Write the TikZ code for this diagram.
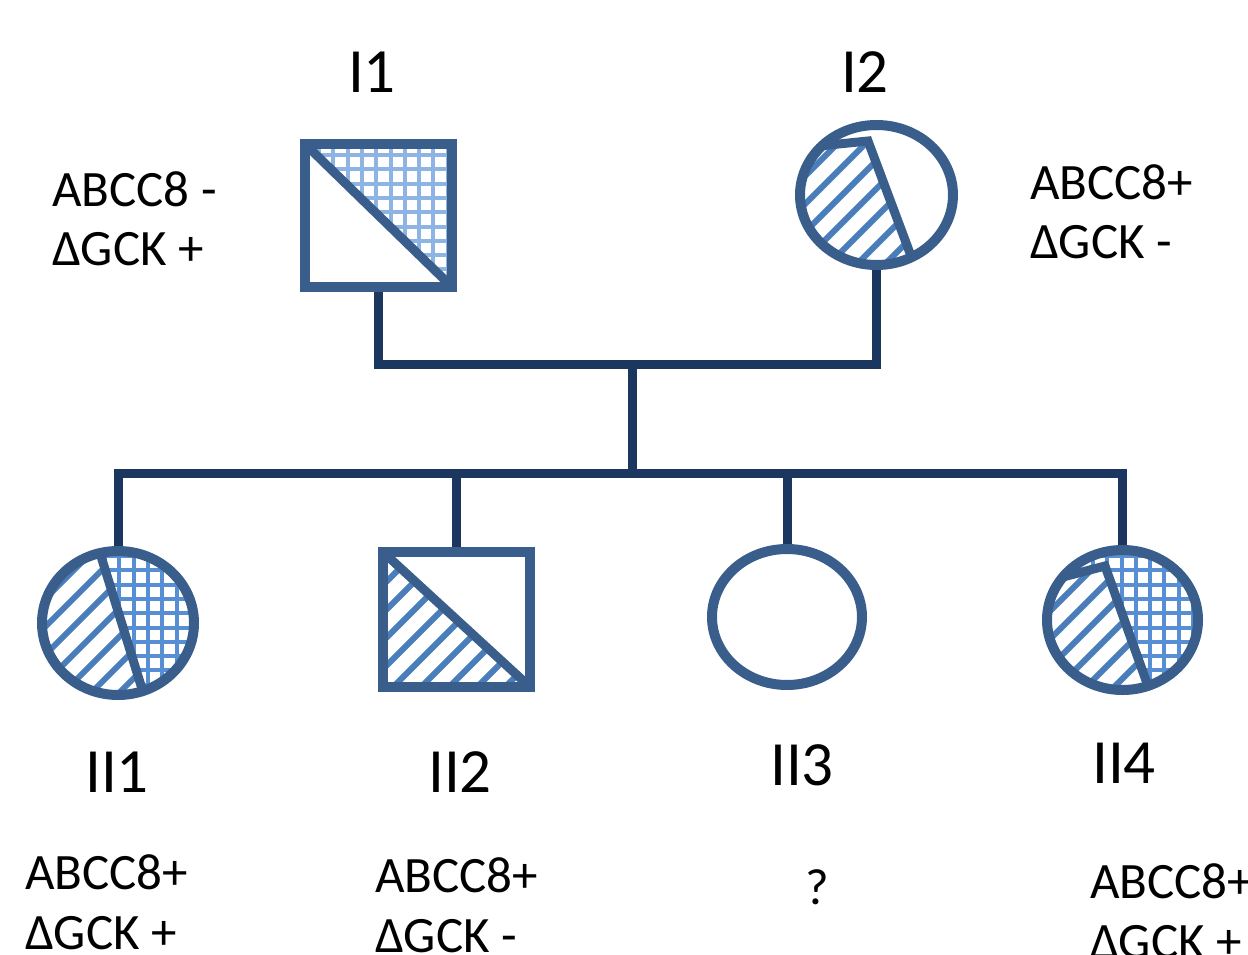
\documentclass[tikz,border=0pt]{standalone}
\usepackage{fontspec}
\setmainfont{Carlito}
\usetikzlibrary{shapes.geometric}
\definecolor{bord}{RGB}{58,94,140}
\definecolor{navy}{RGB}{28,55,95}
\definecolor{hatchc}{RGB}{74,126,187}
\definecolor{gridlight}{RGB}{141,180,226}
\definecolor{griddark}{RGB}{88,142,212}
\begin{document}
\begin{tikzpicture}[x=1pt,y=-1pt,
  border/.style={draw=bord, line width=10pt},
  sq/.style={border, rectangle, inner sep=0pt},
  circ/.style={border, ellipse, inner sep=0pt},
  divider/.style={draw=bord, line width=9pt, line join=miter},
  conn/.style={draw=navy, line width=9pt},
  hatchline/.style={draw=hatchc, line width=6pt},
  gridA/.style={draw=gridlight, line width=4pt},
  gridB/.style={draw=griddark, line width=4pt},
  lab/.style={font=\fontsize{63}{70}\selectfont, inner sep=0pt},
  geno/.style={font=\fontsize{51}{60}\selectfont, inner sep=0pt, anchor=base west}]
\useasboundingbox (0,0) rectangle (1248,955);

% ---------- I1 : grid in upper-right triangle
\begin{scope}
  \clip (305,144) -- (452,144) -- (452,287) -- cycle;
  \foreach \x in {319,333.3,...,460} \draw[gridA] (\x,138) -- (\x,292);
  \foreach \y in {155,169.3,...,295} \draw[gridA] (298,\y) -- (458,\y);
\end{scope}
\draw[divider] (305,144) -- (452,287);

% ---------- I2 : hatch in left part
\begin{scope}
  \clip (876.5,195) ellipse [x radius=76.5, y radius=70];
  \begin{scope}
    \clip (790,149) -- (868,141) -- (920,280) -- (790,280) -- cycle;
    \foreach \k in {640,668,...,930} \draw[hatchline] (\k,285) -- ++(170,-170);
  \end{scope}
  \draw[divider] (790,149) -- (868,141) -- (920,280);
\end{scope}

% ---------- II1 : hatch left, grid right
\begin{scope}
  \clip (118,623) ellipse [x radius=76, y radius=72];
  \begin{scope}
    \clip (30,540) -- (96,540) -- (147,705) -- (30,705) -- cycle;
    \foreach \k in {-150,-122,...,160} \draw[hatchline] (\k,710) -- ++(175,-175);
  \end{scope}
  \begin{scope}
    \clip (96,540) -- (210,540) -- (210,705) -- (147,705) -- cycle;
    \foreach \x in {105,119.3,...,210} \draw[gridB] (\x,540) -- (\x,705);
    \foreach \y in {556,570.3,...,705} \draw[gridB] (30,\y) -- (210,\y);
  \end{scope}
  \draw[divider] (96,540) -- (147,705);
\end{scope}

% ---------- II2 : hatch lower-left triangle
\begin{scope}
  \clip (383,552) -- (530,687) -- (383,687) -- cycle;
  \foreach \k in {220,248,...,540} \draw[hatchline] (\k,692) -- ++(160,-160);
\end{scope}
\draw[divider] (383,552) -- (530,687);

% ---------- II4 : hatch left, grid right
\begin{scope}
  \clip (1122.5,620) ellipse [x radius=75.5, y radius=70];
  \begin{scope}
    \clip (1040,583) -- (1105,566) -- (1153,700) -- (1040,700) -- cycle;
    \foreach \k in {900,928,...,1160} \draw[hatchline] (\k,705) -- ++(175,-175);
  \end{scope}
  \begin{scope}
    \clip (1040,540) -- (1210,540) -- (1210,700) -- (1153,700) -- (1105,566) -- (1040,583) -- cycle;
    \foreach \x in {1050,1064.3,...,1210} \draw[gridB] (\x,540) -- (\x,700);
    \foreach \y in {556,570.3,...,700} \draw[gridB] (1040,\y) -- (1210,\y);
  \end{scope}
  \draw[divider] (1040,583) -- (1105,566) -- (1153,700);
\end{scope}

% ---------- individuals (borders)
\node[sq, minimum width=147pt, minimum height=143pt] (I1) at (378.5,215.5) {};
\node[circ, minimum width=153pt, minimum height=140pt] (I2) at (876.5,195) {};
\node[circ, minimum width=152pt, minimum height=144pt] (II1) at (118,623) {};
\node[sq, minimum width=147pt, minimum height=135pt] (II2) at (456.5,619.5) {};
\node[circ, minimum width=150pt, minimum height=136pt] (II3) at (787,617) {};
\node[circ, minimum width=151pt, minimum height=140pt] (II4) at (1122.5,620) {};

% ---------- connectors
\coordinate (mate) at (632,364);
\coordinate (sib) at (632,473);
\draw[conn] (I1.south) |- (mate) -| (I2.south);
\draw[conn] (mate) -- (sib);
\draw[conn] (II1.north) |- (sib) -| (II4.north);
\draw[conn] (sib) -| (II2.north);
\draw[conn] (sib) -| (II3.north);

% ---------- labels
\node[lab] (lI1) at (372,72) {I1};
\node[lab] (lI2) at (865,72) {I2};
\node[lab] (lII1) at (117,772) {II1};
\node[lab] (lII2) at (460,772) {II2};
\node[lab] (lII3) at (802,765) {II3};
\node[lab] (lII4) at (1124,763) {II4};

% ---------- genotypes
\node[geno] (gI1a) at (52,207) {ABCC8 -};
\node[geno] (gI1b) at (52,265) {ΔGCK +};
\node[geno] (gI2a) at (1030,199) {ABCC8+};
\node[geno] (gI2b) at (1030,258) {ΔGCK -};
\node[geno] (gII1a) at (25,889) {ABCC8+};
\node[geno] (gII1b) at (25,949) {ΔGCK +};
\node[geno] (gII2a) at (375,892) {ABCC8+};
\node[geno] (gII2b) at (375,952) {ΔGCK -};
\node[geno] (gII3) at (805,904) {?};
\node[geno] (gII4a) at (1090,898) {ABCC8+};
\node[geno] (gII4b) at (1090,958) {ΔGCK +};
\end{tikzpicture}
\end{document}
